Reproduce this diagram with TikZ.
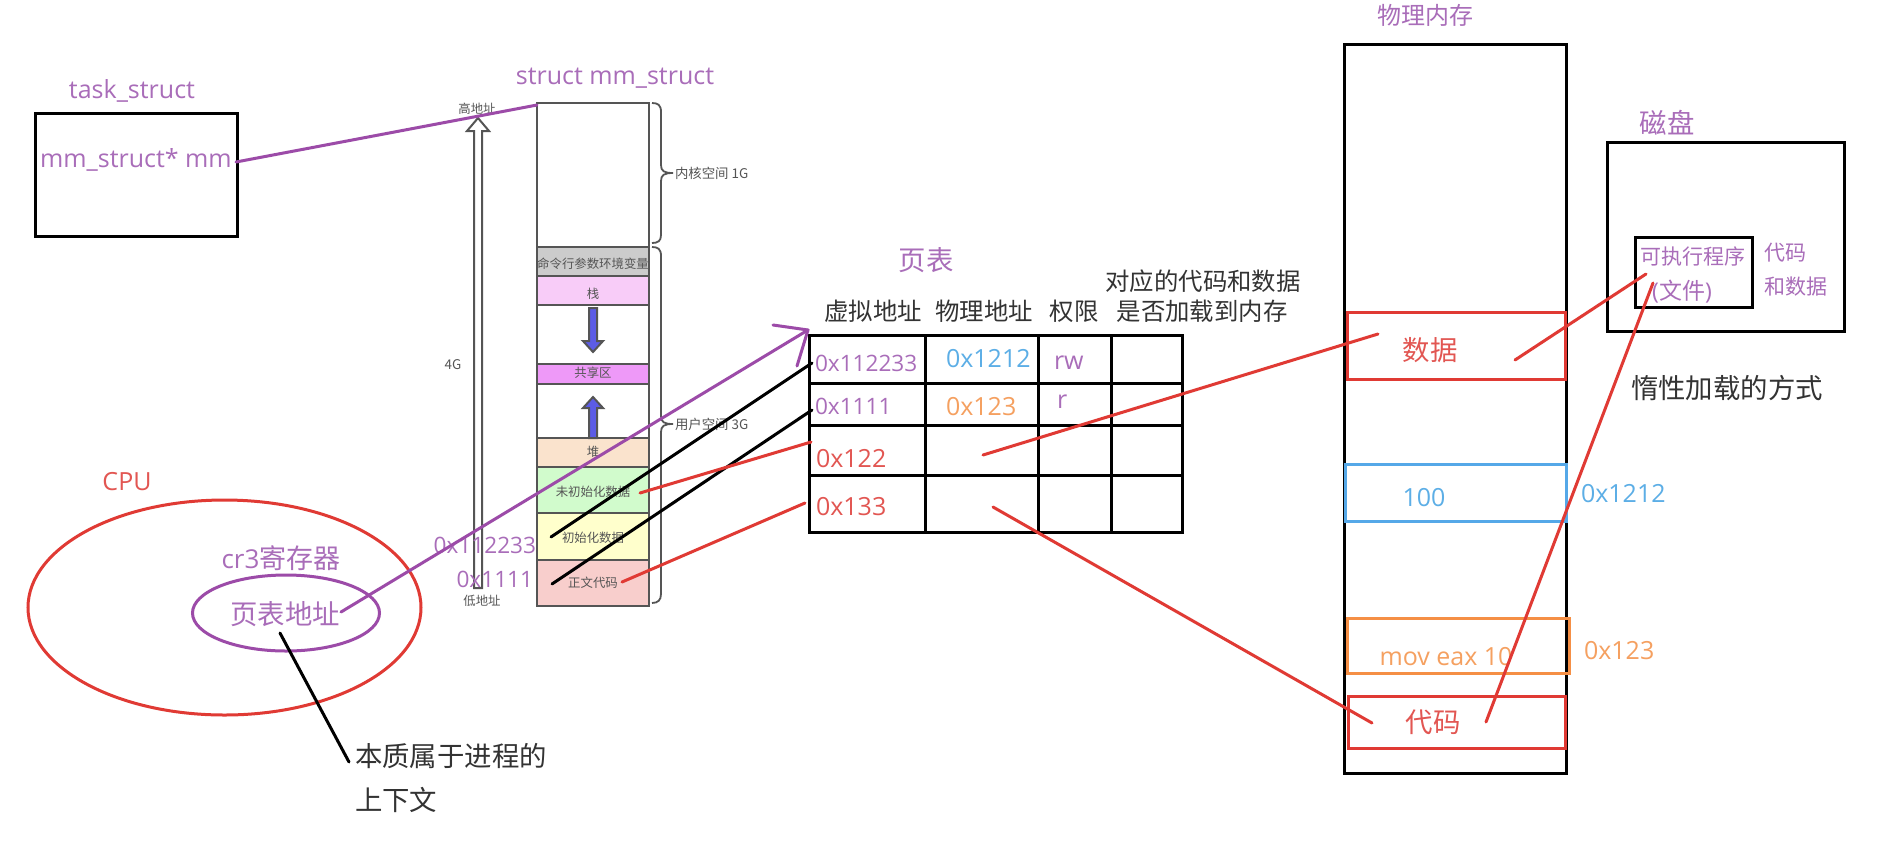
\documentclass[tikz,border=0pt]{standalone}
\usepackage{fontspec}
\setmainfont{Open Sans}
\newfontfamily\cjk{Noto Sans CJK SC}
\definecolor{plLine}{HTML}{9C4BA8}
\definecolor{plText}{HTML}{A96DB9}
\definecolor{rdLine}{HTML}{E03A34}
\definecolor{rdText}{HTML}{E25652}
\definecolor{blLine}{HTML}{55A8E8}
\definecolor{blText}{HTML}{5CAEE6}
\definecolor{orLine}{HTML}{F58F45}
\definecolor{orText}{HTML}{F5A060}
\definecolor{grLine}{HTML}{555555}
\definecolor{blkText}{HTML}{333333}
\definecolor{arrowBlue}{HTML}{5C5CE6}
\definecolor{segStack}{HTML}{F8CCF8}
\definecolor{segShare}{HTML}{EE99F8}
\definecolor{segHeap}{HTML}{FAE3CD}
\definecolor{segBss}{HTML}{D1FBCC}
\definecolor{segData}{HTML}{FFFFCC}
\definecolor{segText}{HTML}{F8CECC}
\tikzset{
  txt/.style={inner sep=0pt,outer sep=0pt},
  lat/.style={txt,font=\fontsize{12.5}{15}\selectfont},
  latsm/.style={txt,font=\fontsize{11.3}{14}\selectfont},
  han/.style={txt,font=\cjk\fontsize{13.7}{16}\selectfont},
  hansm/.style={txt,font=\cjk\fontsize{10.5}{13}\selectfont},
  hdr/.style={txt,font=\cjk\fontsize{12.2}{14}\selectfont,text=blkText},
  sml/.style={txt,font=\cjk\fontsize{6.2}{7.5}\selectfont,text=grLine},
  brlabel/.style={txt,font=\cjk\fontsize{6.7}{8}\selectfont,text=grLine},
  heavy/.style={line width=1.5pt,draw=black},
  pline/.style={line width=1.5pt,draw=plLine,line cap=round,line join=round},
  rline/.style={line width=1.5pt,draw=rdLine,line cap=round},
  kline/.style={line width=1.5pt,draw=black,line cap=round},
  seg/.style={line width=1pt,draw=grLine},
  brace/.style={line width=0.9pt,draw=grLine},
}
\begin{document}
\begin{tikzpicture}[x=0.5pt,y=-0.5pt]
\fill[white] (0,0) rectangle (1890,842);
\useasboundingbox (0,0) rectangle (1890,842);

% task_struct
\draw[heavy] (35,113) rectangle (237,236);
\node[lat,text=plText] (taskT) at (132,91) {task\_struct};
\node[lat,text=plText] (mmF) at (136,160) {mm\_struct* mm};
\node[lat,text=plText] (mmT) at (615,78) {struct mm\_struct};

% address column
\draw[seg,fill=white] (537,103) rectangle (649,247);
\draw[seg,fill=black!20] (537,247) rectangle (649,276);
\draw[seg,fill=segStack] (537,276) rectangle (649,305);
\draw[seg] (537,305) rectangle (649,364);
\draw[seg,fill=segShare] (537,364) rectangle (649,384);
\draw[seg] (537,384) rectangle (649,438);
\draw[seg,fill=segHeap] (537,438) rectangle (649,467);
\draw[seg,fill=segBss] (537,467) rectangle (649,513);
\draw[seg,fill=segData] (537,513) rectangle (649,560);
\draw[seg,fill=segText] (537,560) rectangle (649,606);
\node[sml] (sCmd) at (593,264) {命令行参数环境变量};
\node[sml] (sStack) at (593,294) {栈};
\node[sml] (sShare) at (593,373) {共享区};
\node[sml] (sHeap) at (593,452) {堆};
\node[sml] (sBss) at (593,492) {未初始化数据};
\node[sml] (sData) at (593,538) {初始化数据};
\node[sml] (sText) at (593,583) {正文代码};

% growth arrows
\draw[seg,fill=arrowBlue] (589,308) -- (597,308) -- (597,341) -- (603,341) -- (593,352) -- (583,341) -- (589,341) -- cycle;
\draw[seg,fill=arrowBlue] (589,438) -- (597,438) -- (597,408) -- (603,408) -- (593,397) -- (583,408) -- (589,408) -- cycle;

% 4G arrow
\draw[seg,fill=white] (474,588) -- (482,588) -- (482,131) -- (489,131) -- (478,118) -- (467,131) -- (474,131) -- cycle;
\node[sml] (hi) at (477,109) {高地址};
\node[sml] (lo) at (482,601) {低地址};
\node[brlabel] (fourG) at (453,365) {4G};

% braces
\draw[brace] (652,103) .. controls (658,103) and (661,105) .. (661,112) -- (661,165) .. controls (661,171) and (664,173) .. (673,173) .. controls (664,173) and (661,175) .. (661,181) -- (661,235) .. controls (661,241) and (658,243) .. (652,243);
\draw[brace] (652,247) .. controls (658,247) and (661,249) .. (661,256) -- (661,416) .. controls (661,422) and (664,424) .. (673,424) .. controls (664,424) and (661,426) .. (661,432) -- (661,594) .. controls (661,600) and (658,603) .. (652,603);
\node[brlabel,anchor=west] (kern) at (675,173) {内核空间 1G};
\node[brlabel,anchor=west] (user) at (675,424) {用户空间 3G};

% virtual addresses by the column
\node[latsm,text=plText,anchor=east] (vaA) at (536,545) {0x112233};
\node[latsm,text=plText,anchor=east] (vaB) at (533,579) {0x1111};

% CPU
\draw[line width=1.5pt,draw=rdLine] (224.5,607.5) ellipse [x radius=196.5,y radius=107.5];
\draw[line width=1.5pt,draw=plLine] (286,613) ellipse [x radius=93.5,y radius=38];
\node[lat,text=rdText] (cpuT) at (127,482) {CPU};
\node[txt,font=\fontsize{13}{16}\selectfont,text=plText] (crT) at (281,558) {cr3{\cjk\fontsize{13.5}{16}\selectfont 寄存器}};
\node[han,text=plText] (ptAddr) at (285,614) {页表地址};
\node[han,text=blkText,anchor=west] (noteA) at (355,756) {本质属于进程的};
\node[han,text=blkText,anchor=west] (noteB) at (355,800) {上下文};

% page table
\draw[heavy] (809,335) rectangle (1182,532);
\foreach \ly in {383,425,475} \draw[heavy] (809,\ly) -- (1182,\ly);
\foreach \lx in {925,1038,1111} \draw[heavy] (\lx,335) -- (\lx,532);
\node[han,text=plText] (ptT) at (926,260) {页表};
\node[hdr] (h1) at (873,311) {虚拟地址};
\node[hdr] (h2) at (984,311) {物理地址};
\node[hdr] (h3) at (1074,311) {权限};
\node[hdr] (h4a) at (1203,281) {对应的代码和数据};
\node[hdr] (h4b) at (1202,311) {是否加载到内存};
\node[latsm,text=plText,anchor=west] (c1) at (815,363) {0x112233};
\node[latsm,text=plText,anchor=west] (c2) at (815,406) {0x1111};
\node[lat,text=rdText,anchor=west] (c3) at (816,459) {0x122};
\node[lat,text=rdText,anchor=west] (c4) at (816,507) {0x133};
\node[lat,text=blText,anchor=west] (p1) at (946,359) {0x1212};
\node[lat,text=orText,anchor=west] (p2) at (946,407) {0x123};
\node[lat,text=plText,anchor=west] (r1) at (1054,363) {rw};
\node[lat,text=plText,anchor=west] (r2) at (1057,402) {r};

% physical memory
\draw[heavy] (1344,44) rectangle (1566,773);
\node[han,text=plText,font=\cjk\fontsize{12}{14}\selectfont] (memT) at (1425,15) {物理内存};
\draw[line width=1.5pt,draw=rdLine] (1347,312) rectangle (1565,379);
\draw[line width=1.5pt,draw=blLine] (1345,464) rectangle (1566,521);
\draw[line width=1.5pt,draw=orLine] (1347,618) rectangle (1569,673);
\draw[line width=1.5pt,draw=rdLine] (1348,696) rectangle (1565,748);
\node[han,text=rdText] (mData) at (1430,350) {数据};
\node[lat,text=blText] (mHund) at (1424,498) {100};
\node[lat,text=blText,anchor=west] (aBlue) at (1581,494) {0x1212};
\node[lat,text=orText] (mMov) at (1446,657) {mov eax 10};
\node[lat,text=orText,anchor=west] (aOr) at (1584,651) {0x123};
\node[han,text=rdText] (mCode) at (1433,722) {代码};

% disk
\draw[heavy] (1607,142) rectangle (1844,331);
\draw[heavy] (1635,237) rectangle (1752,307);
\node[han,text=plText] (diskT) at (1667,123) {磁盘};
\node[hansm,text=plText] (exeA) at (1693,256) {可执行程序};
\node[hansm,text=plText,font=\cjk\fontsize{11.5}{13}\selectfont] (exeB) at (1682,292) {{\rmfamily(}文件{\rmfamily)}};
\node[hansm,text=plText,anchor=west] (dA) at (1764,253) {代码};
\node[hansm,text=plText,anchor=west] (dB) at (1764,287) {和数据};
\node[han,text=blkText,anchor=west] (lazy) at (1631,388) {惰性加载的方式};

% connector ends
\coordinate (eMm) at (236,162);
\coordinate (eCol) at (537,105);
\coordinate (eCr) at (341,612);
\coordinate (ePt) at (808,330);
\coordinate (eHeadA) at (773,325);
\coordinate (eHeadB) at (797,366);
\coordinate (eVa1a) at (551,537);
\coordinate (eVa1b) at (812,363);
\coordinate (eVa2a) at (552,584);
\coordinate (eVa2b) at (812,410);
\coordinate (eBssA) at (640,493);
\coordinate (eBssB) at (811,442);
\coordinate (eTxtA) at (622,582);
\coordinate (eTxtB) at (805,503);
\coordinate (eDatA) at (983,455);
\coordinate (eDatB) at (1378,334);
\coordinate (eCodA) at (993,507);
\coordinate (eCodB) at (1372,723);
\coordinate (eDskA) at (1515,360);
\coordinate (eDskB) at (1646,274);
\coordinate (eDsk2A) at (1486,722);
\coordinate (eDsk2B) at (1653,283);
\coordinate (eNoteA) at (280,633);
\coordinate (eNoteB) at (349,762);

% connectors
\draw[pline] (eMm) -- (eCol);
\draw[pline] (eCr) -- (ePt);
\draw[pline] (eHeadA) -- (ePt) -- (eHeadB);
\draw[kline] (eVa1a) -- (eVa1b);
\draw[kline] (eVa2a) -- (eVa2b);
\draw[rline] (eBssA) -- (eBssB);
\draw[rline] (eTxtA) -- (eTxtB);
\draw[rline] (eDatA) -- (eDatB);
\draw[rline] (eCodA) -- (eCodB);
\draw[rline] (eDskA) -- (eDskB);
\draw[rline] (eDsk2A) -- (eDsk2B);
\draw[kline] (eNoteA) -- (eNoteB);
\end{tikzpicture}
\end{document}
